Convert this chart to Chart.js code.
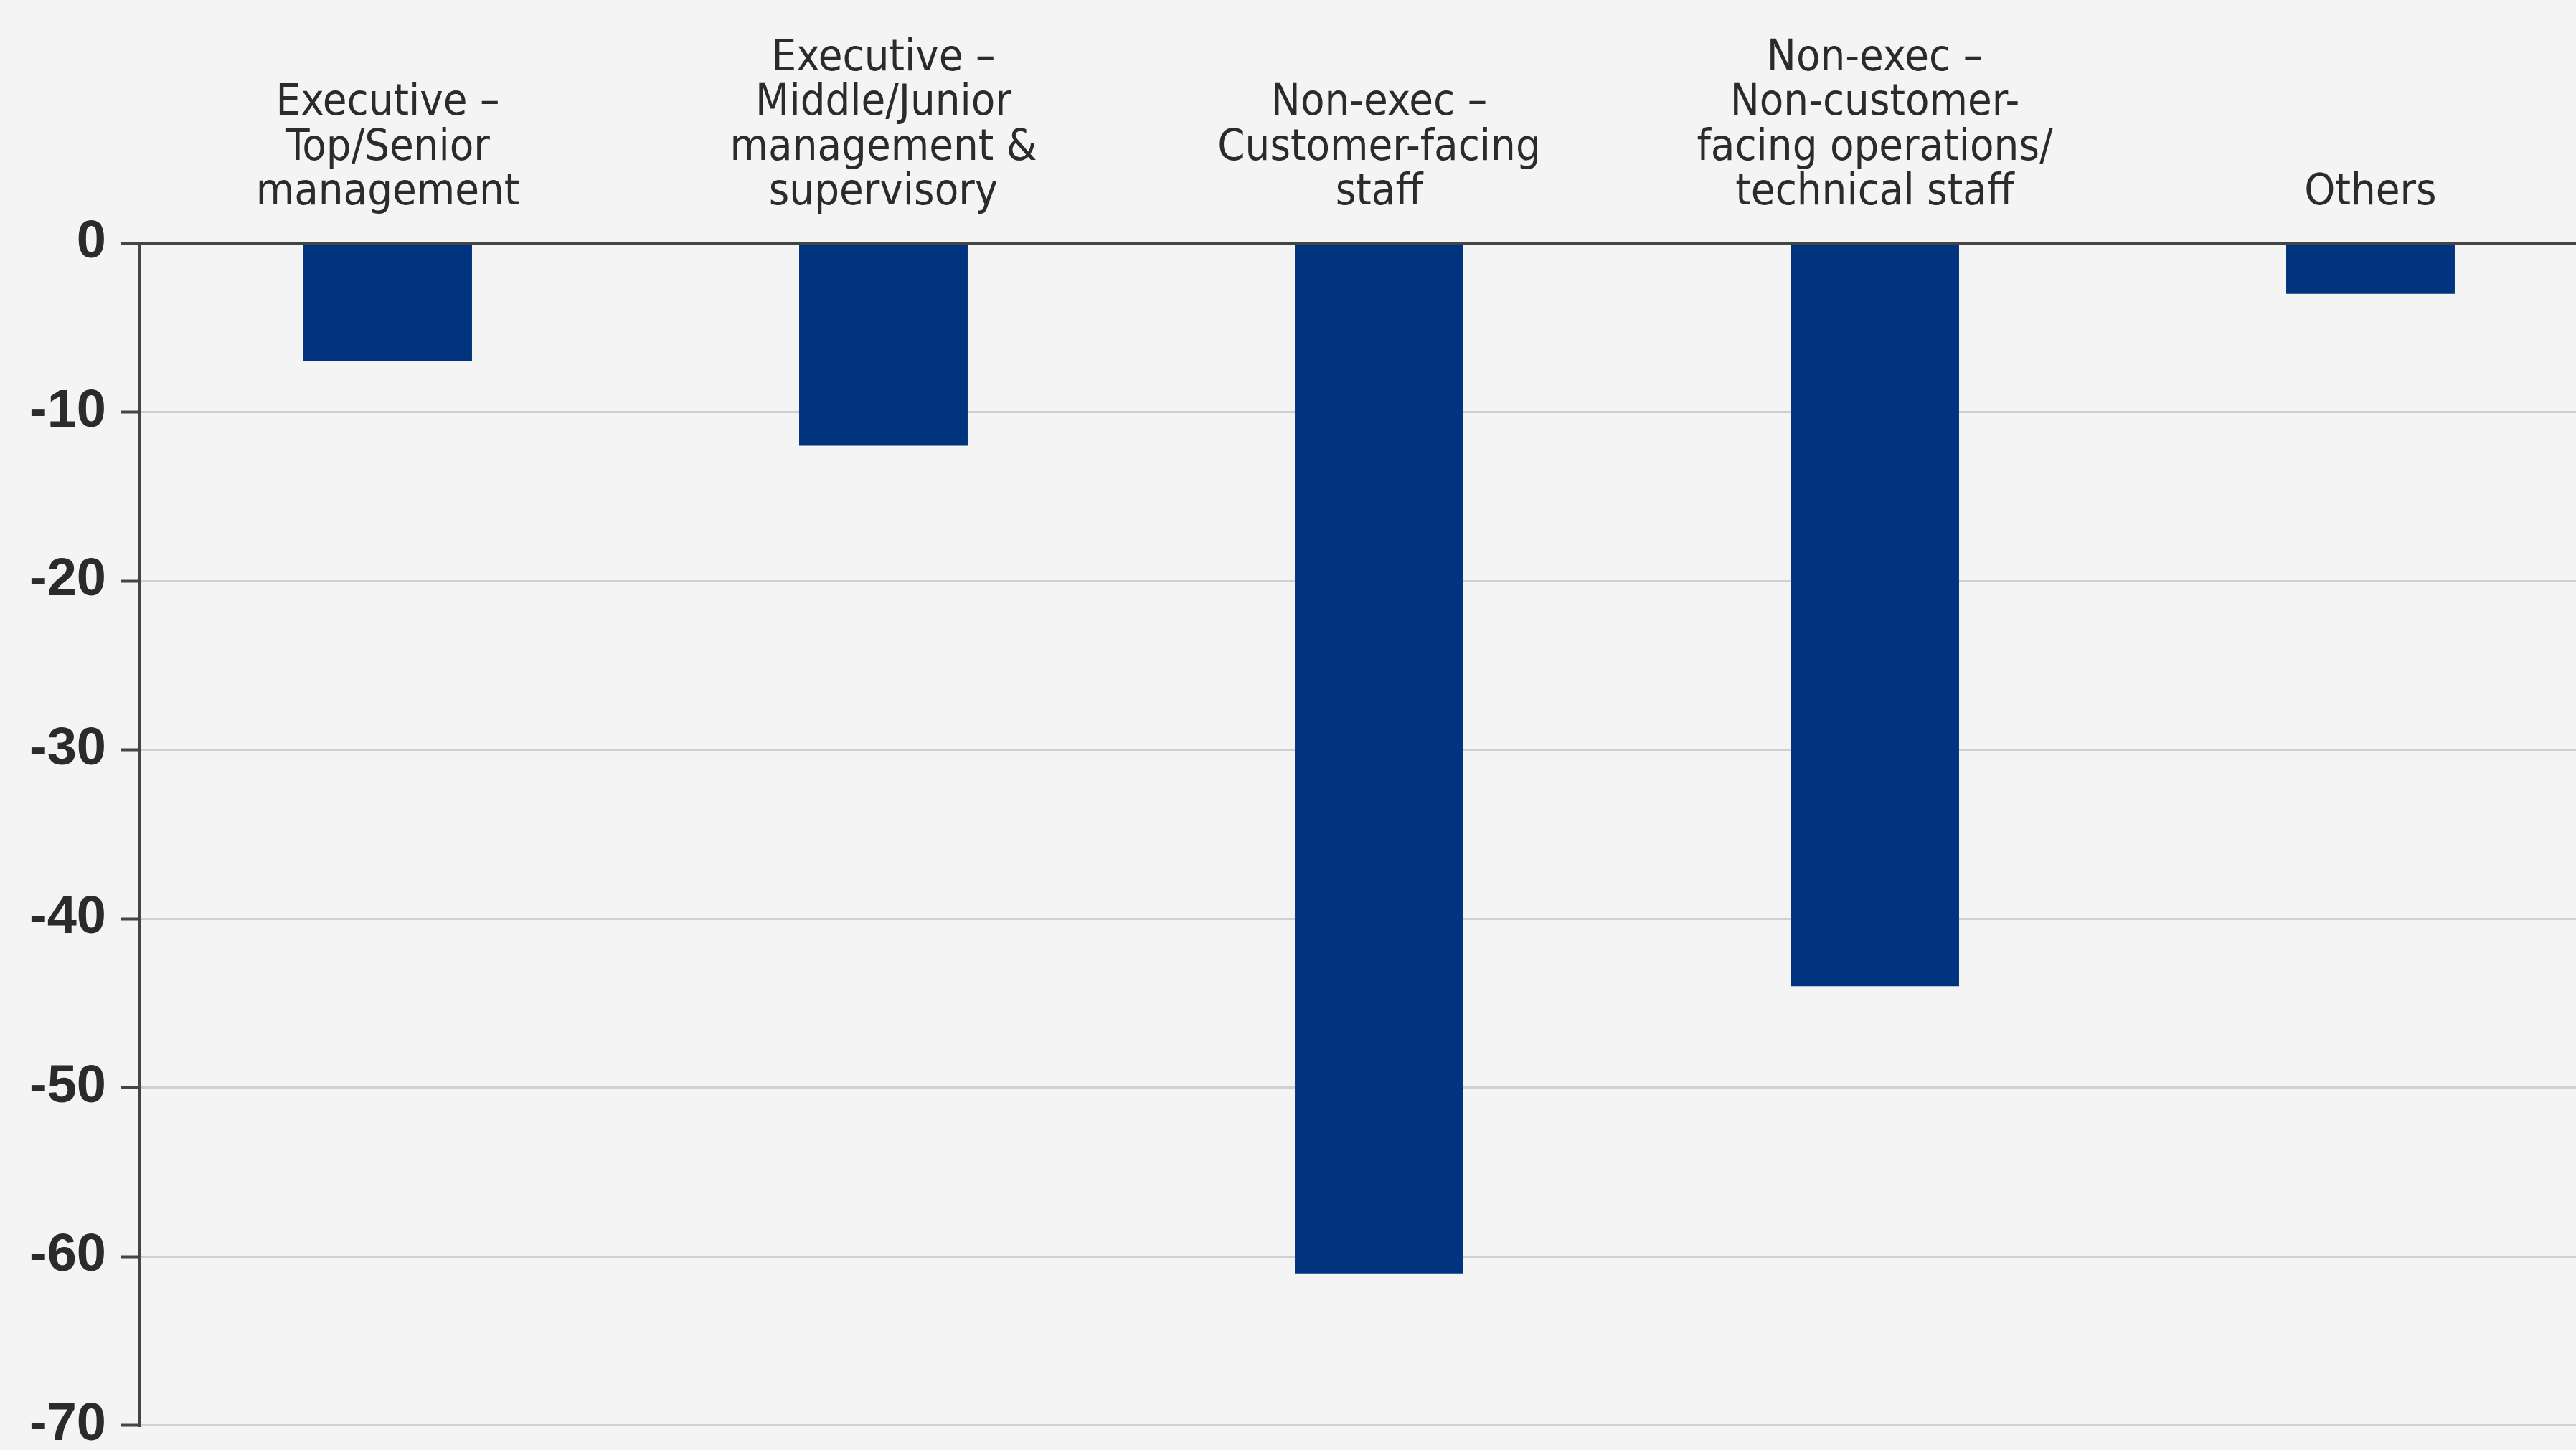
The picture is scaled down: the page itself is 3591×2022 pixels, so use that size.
<!DOCTYPE html>
<html>
<head>
<meta charset="utf-8">
<script src="https://cdn.jsdelivr.net/npm/chart.js@4/dist/chart.umd.min.js"></script>
<style>
  html, body { margin: 0; padding: 0; background: #f4f4f4; overflow: hidden; }
  #wrap { width: 3591px; height: 2022px; overflow: hidden; }
  canvas { display: block; }
</style>
</head>
<body>
<div id="wrap"><canvas id="c" width="3660" height="2052"></canvas></div>
<script>
const categories = [
  ["Executive \u2013", "Top/Senior", "management"],
  ["Executive \u2013", "Middle/Junior", "management &", "supervisory"],
  ["Non-exec \u2013", "Customer-facing", "staff"],
  ["Non-exec \u2013", "Non-customer-", "facing operations/", "technical staff"],
  ["Others"]
];
const values = [-7, -12, -61, -44, -3];
const yTicks = [0, -10, -20, -30, -40, -50, -60, -70];

const bgPlugin = {
  id: 'bg',
  beforeDraw(chart) {
    const ctx = chart.ctx;
    ctx.save();
    ctx.fillStyle = '#f4f4f4';
    ctx.fillRect(0, 0, chart.width, chart.height);
    ctx.restore();
  }
};

new Chart(document.getElementById('c'), {
  type: 'bar',
  data: {
    labels: categories,
    datasets: [{
      data: values,
      backgroundColor: '#01347f',
      borderWidth: 0,
      categoryPercentage: 1,
      barPercentage: 0.34
    }]
  },
  options: {
    responsive: false,
    animation: false,
    layout: { padding: { top: 0, right: 10, bottom: 30, left: 0 } },
    plugins: { legend: { display: false }, tooltip: { enabled: false } },
    scales: {
      x: {
        position: 'top',
        grid: { display: false, drawTicks: false },
        border: { display: false },
        ticks: {
          color: '#2b2b2b',
          font: { family: 'DejaVu Sans Condensed, DejaVu Sans', size: 61, lineHeight: 1.02 },
          padding: 39,
          maxRotation: 0,
          autoSkip: false
        },
        afterFit(scale) { scale.height = 339; }
      },
      y: {
        min: -70,
        max: 0,
        afterBuildTicks(scale) { scale.ticks = yTicks.map(v => ({ value: v })); },
        grid: {
          color: ctx => (ctx.tick && ctx.tick.value === 0) ? '#444444' : '#cfcfcf',
          lineWidth: ctx => (ctx.tick && ctx.tick.value === 0) ? 4 : 3,
          tickColor: '#444444',
          tickLength: 27,
          tickWidth: 4
        },
        border: { display: true, color: '#444444', width: 4 },
        ticks: {
          color: '#2b2b2b',
          font: { family: 'Liberation Sans, Arial', size: 74, weight: 'bold' },
          padding: 20
        },
        afterFit(scale) { scale.width = 195; }
      }
    }
  },
  plugins: [bgPlugin]
});
</script>
</body>
</html>
